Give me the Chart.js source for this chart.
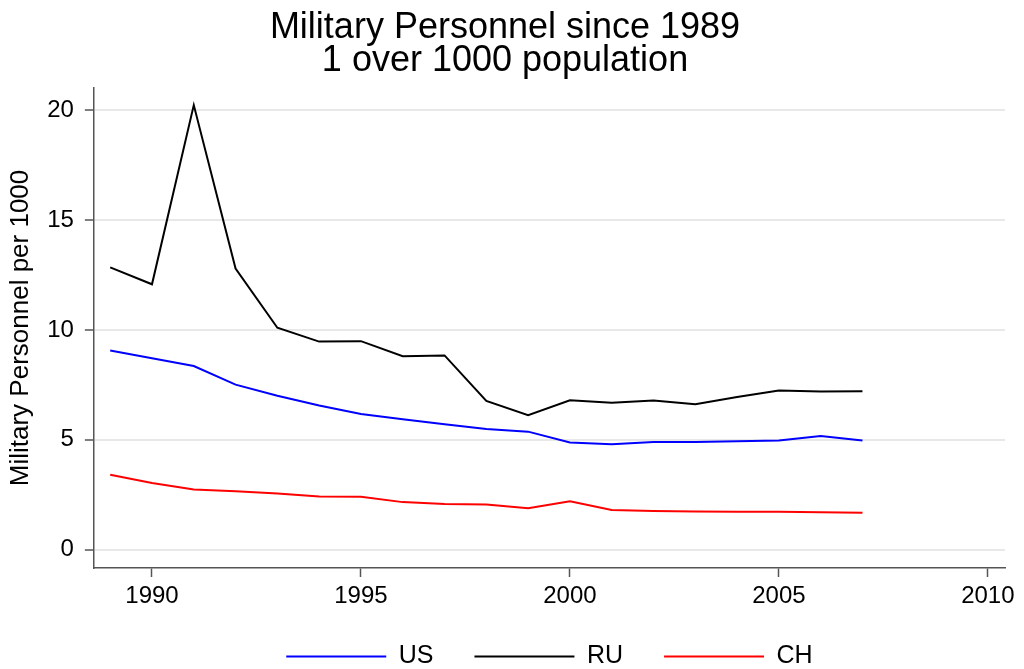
<!DOCTYPE html>
<html>
<head>
<meta charset="utf-8">
<script src="https://cdn.jsdelivr.net/npm/chart.js@4.4.1/dist/chart.umd.min.js"></script>
<style>
  html, body { margin: 0; padding: 0; background: #fff; }
  canvas { display: block; }
</style>
</head>
<body>
<canvas id="chart" width="1024" height="669"></canvas>
<script>
// values (per 1000 population)
const years = [1989, 1990, 1991, 1992, 1993, 1994, 1995, 1996, 1997, 1998,
               1999, 2000, 2001, 2002, 2003, 2004, 2005, 2006, 2007];
const usValues = [9.06, 8.71, 8.36, 7.51, 7.0, 6.56, 6.17, 5.93, 5.71, 5.49,
                  5.37, 4.88, 4.79, 4.9, 4.9, 4.93, 4.97, 5.17, 4.97];
const ruValues = [12.85, 12.08, 20.24, 12.8, 10.1, 9.47, 9.49, 8.8, 8.84, 6.77,
                  6.12, 6.8, 6.68, 6.79, 6.62, 6.95, 7.24, 7.2, 7.21];
const chValues = [3.41, 3.03, 2.73, 2.65, 2.55, 2.42, 2.4, 2.16, 2.08, 2.05,
                  1.88, 2.2, 1.8, 1.76, 1.73, 1.72, 1.72, 1.7, 1.68];
const xTicks = [1990, 1995, 2000, 2005, 2010];
const yTicks = [0, 5, 10, 15, 20];

const FONT = '"Liberation Sans", Arial, Helvetica, sans-serif';
const AXIS = '#555555';
const GRID = '#e8e8e8';

const toPoints = (vals) => vals.map((v, i) => ({ x: years[i], y: v }));

function series(label, vals, color) {
    return {
        label,
        data: toPoints(vals),
        borderColor: color,
        backgroundColor: color,
        borderWidth: 2,
        pointRadius: 0,
        tension: 0,
        fill: false
    };
}

new Chart(document.getElementById('chart').getContext('2d'), {
    type: 'line',
    data: {
        datasets: [
            series('US', usValues, '#0000ff'),
            series('RU', ruValues, '#000000'),
            series('CH', chValues, '#ff0000')
        ]
    },
    options: {
        responsive: false,
        animation: false,
        layout: { padding: { left: 5, right: 19, top: 0, bottom: -10 } },
        plugins: {
            title: {
                display: true,
                text: ['Military Personnel since 1989', '1 over 1000 population'],
                color: '#000',
                font: { family: FONT, size: 36, weight: 'normal', lineHeight: 0.93 },
                padding: { top: 11, bottom: 10 }
            },
            legend: {
                position: 'bottom',
                fullSize: false,
                labels: {
                    color: '#000',
                    font: { family: FONT, size: 25 },
                    boxWidth: 100,
                    boxHeight: 2,
                    padding: 41,
                    // plain 2px strokes like the original key
                    generateLabels: (chart) => Chart.defaults.plugins.legend.labels
                        .generateLabels(chart).map(l => ({ ...l, lineWidth: 0 }))
                }
            },
            tooltip: { enabled: false }
        },
        scales: {
            x: {
                type: 'linear',
                min: 1988.61,
                max: 2010.41,
                afterBuildTicks: (s) => { s.ticks = xTicks.map(v => ({ value: v })); },
                afterFit: (s) => { s.height = 35; },
                grid: { drawOnChartArea: false, tickLength: 9, tickColor: AXIS, tickWidth: 1.5 },
                border: { color: AXIS, width: 1.5 },
                ticks: {
                    color: '#000',
                    font: { family: FONT, size: 24 },
                    padding: 5,
                    maxRotation: 0,
                    callback: (v) => String(v)
                }
            },
            y: {
                min: -0.84,
                max: 21.02,
                afterBuildTicks: (s) => { s.ticks = yTicks.map(v => ({ value: v })); },
                grid: { color: GRID, lineWidth: 2, tickLength: 9, tickColor: AXIS, tickWidth: 1.5 },
                border: { color: AXIS, width: 1.5 },
                title: {
                    display: true,
                    text: 'Military Personnel per 1000',
                    color: '#000',
                    font: { family: FONT, size: 26 },
                    padding: { top: 0, bottom: 0 }
                },
                ticks: {
                    color: '#000',
                    font: { family: FONT, size: 24 },
                    padding: 11
                }
            }
        }
    }
});
</script>
</body>
</html>
